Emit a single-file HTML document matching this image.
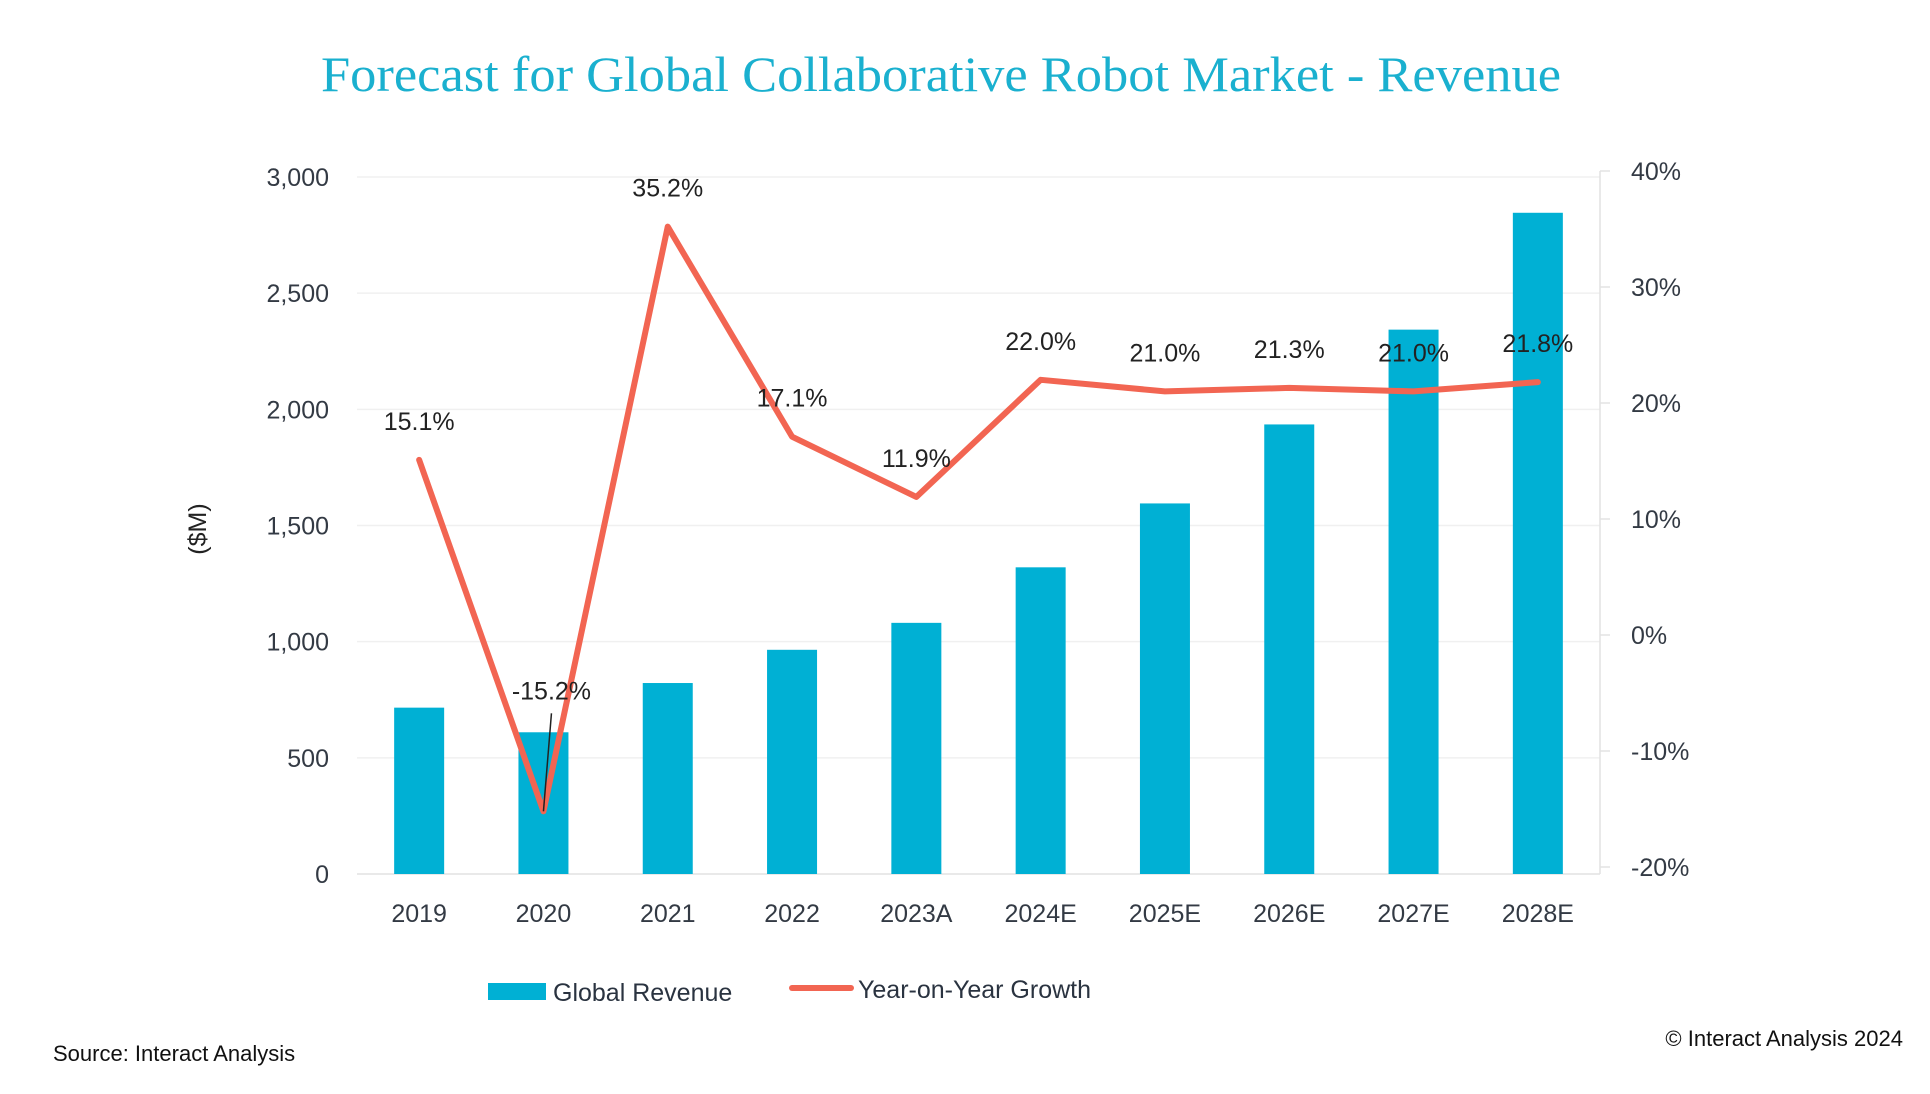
<!DOCTYPE html>
<html><head><meta charset="utf-8"><style>
html,body{margin:0;padding:0;background:#fff;}
svg{display:block;font-family:"Liberation Sans","DejaVu Sans",sans-serif;}
</style></head><body>
<svg id="chart" width="1930" height="1094" viewBox="0 0 1930 1094" xmlns="http://www.w3.org/2000/svg">
<text x="321" y="91" font-family="Liberation Serif, serif" font-size="50" fill="#1ab0cf" textLength="1240" lengthAdjust="spacingAndGlyphs">Forecast for Global Collaborative Robot Market - Revenue</text>
<g id="grid"></g><g id="bars"></g><g id="line"></g><g id="labels"></g><g id="axes"></g>
<text transform="translate(206,529) rotate(-90)" text-anchor="middle" font-size="25" fill="#222">($M)</text>
<g>
<rect x="488" y="983" width="58" height="17" fill="#00b0d4"/>
<text x="553" y="1001" font-size="25" fill="#2a3340">Global Revenue</text>
<line x1="792" y1="988" x2="851" y2="988" stroke="#f26552" stroke-width="6" stroke-linecap="round"/>
<text x="858" y="998" font-size="25" fill="#2a3340">Year-on-Year Growth</text>
</g>
<text x="53" y="1061" font-size="22" fill="#111">Source: Interact Analysis</text>
<text x="1903" y="1046" text-anchor="end" font-size="22" fill="#111">© Interact Analysis 2024</text>
</svg>
<script>
const categories=["2019","2020","2021","2022","2023A","2024E","2025E","2026E","2027E","2028E"];
const revenue=[716,610,822,965,1081,1320,1595,1935,2343,2846];
const growth=[15.1,-15.2,35.2,17.1,11.9,22.0,21.0,21.3,21.0,21.8];
const growthLabels=["15.1%","-15.2%","35.2%","17.1%","11.9%","22.0%","21.0%","21.3%","21.0%","21.8%"];
const leftTicks=[0,500,1000,1500,2000,2500,3000];
const leftTickLabels=["0","500","1,000","1,500","2,000","2,500","3,000"];
const rightTicks=[-20,-10,0,10,20,30,40];
const rightTickLabels=["-20%","-10%","0%","10%","20%","30%","40%"];
const NS="http://www.w3.org/2000/svg";
const X0=357,X1=1600,Y0=874,Y1=177,RY0=867,RY1=171;
const step=(X1-X0)/categories.length;
function xPos(i){return X0+step*(i+0.5);}
function yL(v){return Y0-(v/3000)*(Y0-Y1);}
function yR(v){return RY0-((v+20)/60)*(RY0-RY1);}
function mk(tag,attrs,parent){const e=document.createElementNS(NS,tag);for(const k in attrs)e.setAttribute(k,attrs[k]);parent.appendChild(e);return e;}
const grid=document.getElementById('grid'),bars=document.getElementById('bars'),line=document.getElementById('line'),labels=document.getElementById('labels'),axes=document.getElementById('axes');
leftTicks.forEach((t,i)=>{
 const g=mk('line',{x1:X0,x2:X1,y1:yL(t),y2:yL(t),stroke:i===0?'#e2e2e2':'#f0f0f0','stroke-width':1.5},grid);
 
 
 const tx=mk('text',{x:329,y:yL(t)+9,'text-anchor':'end','font-size':25,fill:'#333a44'},axes);
 tx.textContent=leftTickLabels[i];
 
 
});
const ra=mk('line',{x1:X1,x2:X1,y1:RY1,y2:Y0,stroke:'#e2e2e2','stroke-width':1.5},axes);


rightTicks.forEach((t,i)=>{
 mk('line',{x1:X1,x2:X1+10,y1:yR(t),y2:yR(t),stroke:'#e2e2e2','stroke-width':1.5},axes);
 const tx=mk('text',{x:1631,y:yR(t)+9,'font-size':25,fill:'#333a44'},axes);
 tx.textContent=rightTickLabels[i];
 
 
});
categories.forEach((c,i)=>{
 const r=mk('rect',{x:xPos(i)-25,y:yL(revenue[i]),width:50,height:Y0-yL(revenue[i]),fill:'#00b0d4'},bars);
 
 
 const tx=mk('text',{x:xPos(i),y:922,'text-anchor':'middle','font-size':25,fill:'#333a44'},axes);
 tx.textContent=c;
 
 
});
const pts=growth.map((g,i)=>xPos(i)+','+yR(g)).join(' ');
const pl=mk('polyline',{points:pts,fill:'none',stroke:'#f26552','stroke-width':6,'stroke-linejoin':'round','stroke-linecap':'round'},line);


growth.forEach((g,i)=>{
 let x=xPos(i),y=yR(g)-30;
 if(g<0){x+=8;y=yR(g)-112;
  const l=mk('line',{x1:xPos(i)+8,y1:y+14,x2:xPos(i),y2:yR(g),stroke:'#222','stroke-width':1.5},labels);
  
  
 }
 const tx=mk('text',{x:x,y:y,'text-anchor':'middle','font-size':25,fill:'#222'},labels);
 tx.textContent=growthLabels[i];
 
 
});
</script>
</body></html>
